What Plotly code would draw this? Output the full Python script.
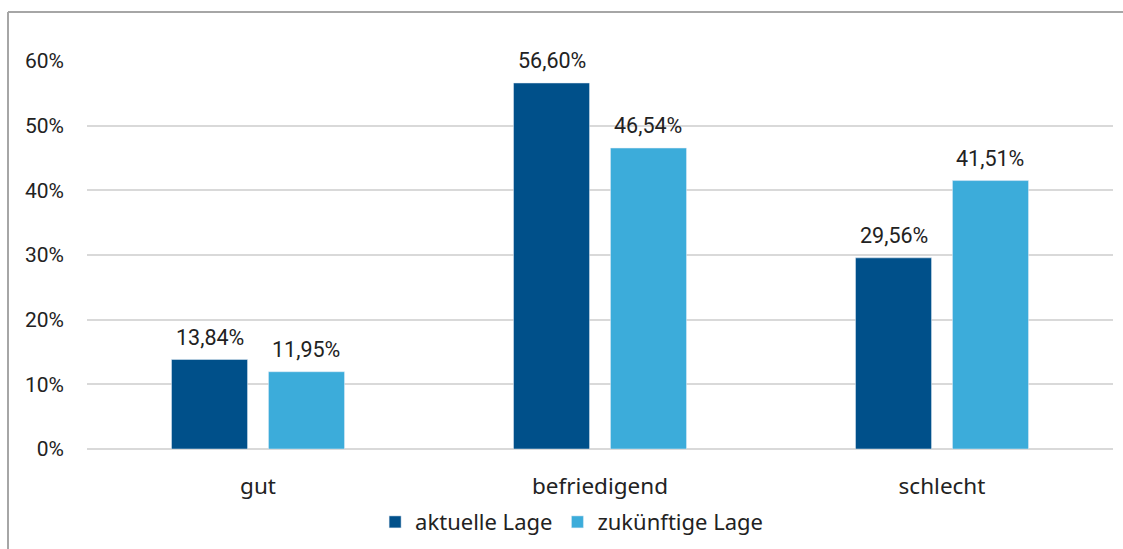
import plotly.graph_objects as go

categories = ["gut", "befriedigend", "schlecht"]
aktuelle = [13.84, 56.60, 29.56]
zukuenftige = [11.95, 46.54, 41.51]
tick_vals = [0, 10, 20, 30, 40, 50, 60]
tick_text = ["0%", "10%", "20%", "30%", "40%", "50%", "60%"]

def fmt(v):
    return f"{v:.2f}".replace(".", ",") + "%"

BARGAP = 0.433
BARGROUPGAP = 0.216
label_font = dict(family="Roboto", size=21.5, color="#222222")

fig = go.Figure()
fig.add_trace(go.Bar(x=categories, y=aktuelle, name="aktuelle Lage",
                     marker=dict(color="#00508A")))
fig.add_trace(go.Bar(x=categories, y=zukuenftige, name="zukünftige Lage",
                     marker=dict(color="#3CACDA")))

# value labels above bars (offset = half of a bar slot in category units)
slot = (1 - BARGAP) / 2
annotations = []
for series, off in ((aktuelle, -slot / 2), (zukuenftige, slot / 2)):
    for i, v in enumerate(series):
        annotations.append(dict(
            x=i + off, y=v, xref="x", yref="y", text=fmt(v),
            showarrow=False, yanchor="bottom", xanchor="center",
            yshift=8, font=label_font))

fig.update_layout(
    width=1123, height=549,
    margin=dict(l=87, r=10, t=61, b=100),
    paper_bgcolor="white", plot_bgcolor="white",
    barmode="group", bargap=BARGAP, bargroupgap=BARGROUPGAP,
    showlegend=True,
    annotations=annotations,
    legend=dict(orientation="h", xref="container", yref="container",
                x=0.509, xanchor="center", y=0.049, yanchor="middle",
                font=dict(family="Noto Sans", size=22, color="#222222"),
                itemwidth=30, traceorder="normal"),
    xaxis=dict(showgrid=False, showline=False, ticks="", automargin=False,
               tickfont=dict(family="Noto Sans", size=22.5, color="#222222"),
               ticklabelstandoff=21),
    yaxis=dict(range=[0, 60], tickvals=tick_vals, ticktext=tick_text,
               automargin=False,
               showgrid=True, gridcolor="#D9D9D9", gridwidth=1.5,
               zeroline=True, zerolinecolor="#D9D9D9", zerolinewidth=1.5,
               showline=False, ticks="",
               tickfont=dict(family="Roboto", size=21, color="#222222"),
               ticklabelstandoff=22),
    shapes=[
        dict(type="line", xref="paper", yref="paper",
             x0=-79/1026, x1=-79/1026, y0=1 + 49/388, y1=-0.3,
             line=dict(color="#A6A6A6", width=2)),
        dict(type="line", xref="paper", yref="paper",
             x0=-79/1026, x1=1.05, y0=1 + 49/388, y1=1 + 49/388,
             line=dict(color="#A6A6A6", width=2)),
    ],
)

fig.write_html("out.html")
